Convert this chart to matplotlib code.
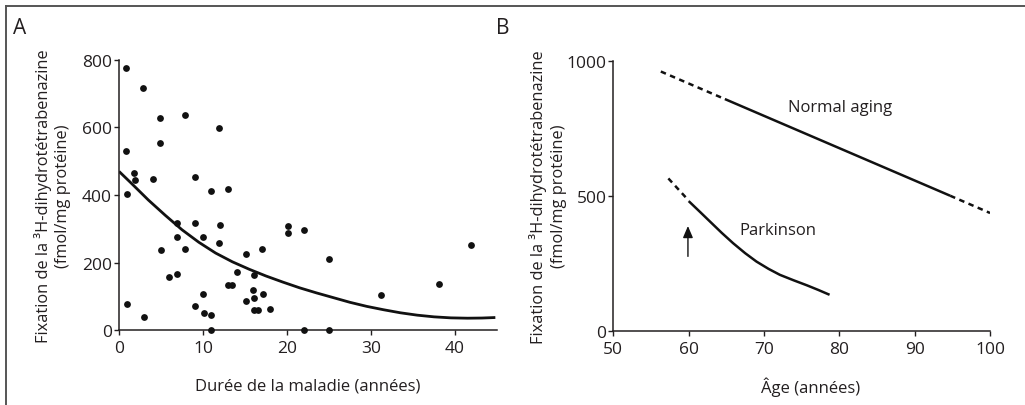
"""Fixation de la 3H-dihydrotétrabenazine : A) vs durée de la maladie, B) vs âge."""

import matplotlib
matplotlib.use("Agg")
import matplotlib.pyplot as plt
from matplotlib.lines import Line2D

plt.rcParams["font.family"] = ["Open Sans", "DejaVu Sans"]

INK = "#231f20"

# ---------- panel A : points ----------
duree = [0.8, 2.9, 4.9, 7.9, 4.9, 11.9, 0.8, 1.8, 1.9, 4.0, 0.9, 9.0, 11.0, 13.0,
         6.9, 9.0, 12.0, 6.9, 10.0, 11.9, 5.0, 7.9, 15.1, 17.0, 20.1, 20.1, 22.0,
         25.0, 41.9, 5.9, 6.9, 14.0, 16.1, 13.0, 13.5, 38.1, 10.0, 16.0, 16.1, 17.1,
         31.2, 15.1, 0.9, 9.1, 10.1, 11.0, 16.1, 16.6, 18.0, 3.0, 11.0, 22.0, 25.0]
fixation = [775, 717, 627, 636, 555, 598, 529, 464, 443, 446, 403, 454, 411, 419,
            316, 318, 310, 276, 275, 259, 238, 240, 226, 241, 307, 286, 297,
            211, 252, 157, 166, 171, 163, 133, 133, 137, 107, 119, 96, 107,
            103, 85, 76, 70, 49, 45, 60, 60, 62, 40, 0, 0, 0]

# fitted curve, sampled from the figure
fit_x = [0.0, 1.5, 3.5, 5.5, 7.5, 9.5, 11.5, 13.5, 15.5, 17.5, 19.5, 21.5, 23.5,
         25.5, 27.5, 29.5, 31.5, 33.5, 35.5, 37.5, 39.5, 41.5, 43.2, 44.8]
fit_y = [470, 434, 385, 340, 297, 260, 228, 202, 180, 160, 142, 125, 110,
         96, 82, 70, 60, 51, 44, 39, 36, 35, 35.5, 37]

# ---------- panel B : schematic curves ----------
normal_dash1_x = [56.3, 64.8]
normal_dash1_y = [960, 858]
normal_x = [64.8, 94.7]
normal_y = [858, 500]
normal_dash2_x = [94.7, 100.0]
normal_dash2_y = [500, 436]

park_dash_x = [57.3, 60.0]
park_dash_y = [564, 482]
park_x = [60.0, 61.5, 62.8, 64.4, 65.9, 67.5, 69.0, 70.6, 72.1, 73.9, 75.7, 77.2, 78.7]
park_y = [480, 440, 405, 362, 324, 287, 256, 229, 207, 187, 168, 151, 133]

arrow_x = 59.9
arrow_from, arrow_to = 265, 398


def style_axes(ax):
    for s in ("top", "right"):
        ax.spines[s].set_visible(False)
    for s in ("left", "bottom"):
        ax.spines[s].set_linewidth(1.1)
        ax.spines[s].set_color(INK)
    ax.tick_params(axis="both", direction="out", length=3.5, width=1.0,
                   color=INK, labelcolor=INK, labelsize=12.5)
    ax.tick_params(axis="y", pad=1.5)
    ax.tick_params(axis="x", pad=4)


fig = plt.figure(figsize=(10.25, 4.06), dpi=100)

# frame (only top and left edges survive in the crop)
fig.add_artist(Line2D([0.0059, 1.0], [0.983, 0.983], color="#555555", lw=1.4,
                      transform=fig.transFigure))
fig.add_artist(Line2D([0.0059, 0.0059], [0.0, 0.983], color="#555555", lw=1.4,
                      transform=fig.transFigure))

ylab = "Fixation de la \u00b3H-dihydrotétrabenazine\n(fmol/mg protéine)"

# ---- A ----
axA = fig.add_axes([0.1161, 0.1847, 0.3688, 0.6651])
axA.scatter(duree, fixation, s=24, color="#111111", zorder=3, clip_on=False,
            linewidths=0)
axA.plot(fit_x, fit_y, color="#111111", lw=2.0, solid_capstyle="butt",
         solid_joinstyle="round")
axA.set_xlim(0, 45)
axA.set_ylim(0, 800)
axA.set_xticks([0, 10, 20, 30, 40])
axA.set_yticks([0, 200, 400, 600, 800])
style_axes(axA)
axA.text(-0.176, 0.5, ylab, transform=axA.transAxes, rotation=90, ha="center",
         va="center", fontsize=11.8, color=INK, linespacing=1.3)
axA.text(0.5, -0.206, "Durée de la maladie (années)", transform=axA.transAxes,
         ha="center", va="center", fontsize=12, color=INK)
fig.text(0.0125, 0.93, "A", fontsize=15, color=INK, ha="left", va="center")

# ---- B ----
dash = dict(color="#111111", lw=1.8, ls=(0, (2.2, 1.8)))
solid = dict(color="#111111", lw=1.8, solid_capstyle="butt", solid_joinstyle="round")
axB = fig.add_axes([0.5984, 0.183, 0.3675, 0.665])
axB.plot(normal_dash1_x, normal_dash1_y, **dash)
axB.plot(normal_x, normal_y, **solid)
axB.plot(normal_dash2_x, normal_dash2_y, **dash)
axB.plot(park_dash_x, park_dash_y, **dash)
axB.plot(park_x, park_y, **solid)
axB.annotate("", xy=(arrow_x, arrow_to), xytext=(arrow_x, arrow_from),
             arrowprops=dict(arrowstyle="-|>,head_length=0.7,head_width=0.3",
                             color="#111111", lw=1.0))
axB.text(80.1, 828, "Normal aging", ha="center", va="center", fontsize=12,
         color=INK)
axB.text(71.9, 373, "Parkinson", ha="center", va="center", fontsize=12,
         color=INK)
axB.set_xlim(50, 100)
axB.set_ylim(0, 1000)
axB.set_xticks([50, 60, 70, 80, 90, 100])
axB.set_yticks([0, 500, 1000])
style_axes(axB)
axB.text(-0.173, 0.5, ylab, transform=axB.transAxes, rotation=90, ha="center",
         va="center", fontsize=11.8, color=INK, linespacing=1.3)
axB.text(0.523, -0.206, "Âge (années)", transform=axB.transAxes,
         ha="center", va="center", fontsize=12, color=INK)
fig.text(0.484, 0.93, "B", fontsize=15, color=INK, ha="left", va="center")

fig.savefig("out.png", dpi=100)
